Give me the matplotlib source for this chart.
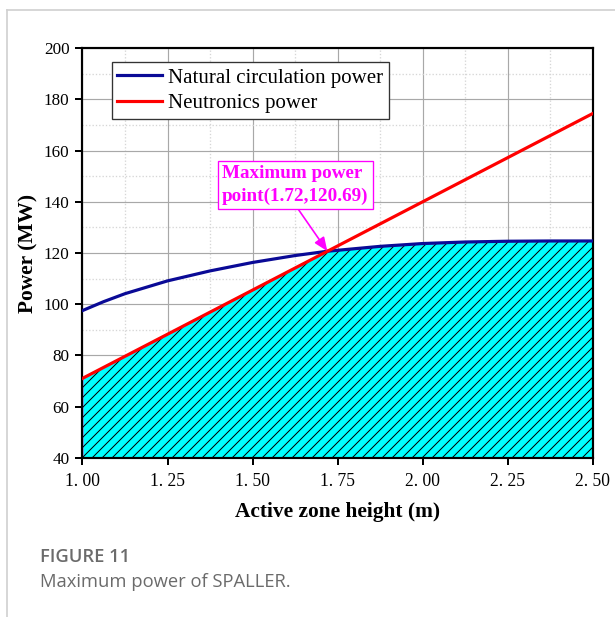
import matplotlib.pyplot as plt
import numpy as np
from matplotlib.lines import Line2D

# Datos
altura = [1.0, 1.0625, 1.125, 1.25, 1.375, 1.5, 1.625, 1.72, 1.875, 2.0, 2.125, 2.25, 2.375, 2.5]
potencia_circ = [97.5, 101.0, 104.1, 109.1, 113.0, 116.3, 119.0, 120.69, 122.6, 123.7, 124.3, 124.6, 124.7, 124.7]
altura_neut = [1.0, 2.5]
potencia_neut = [71.0, 174.5]
punto_max = (1.72, 120.69)

xticks = [1.0, 1.25, 1.5, 1.75, 2.0, 2.25, 2.5]
xtick_labels = ["1. 00", "1. 25", "1. 50", "1. 75", "2. 00", "2. 25", "2. 50"]
yticks = [40, 60, 80, 100, 120, 140, 160, 180, 200]

SERIF = ["Liberation Serif", "DejaVu Serif"]
plt.rcParams["hatch.linewidth"] = 0.6

DPI = 120
fig = plt.figure(figsize=(615 / DPI, 617 / DPI), dpi=DPI)
ax = fig.add_axes([0.1341, 0.2582, 0.8296, 0.6635])

# Zona sombreada bajo la menor de las dos potencias
neut_en_x = np.interp(altura, altura_neut, potencia_neut)
limite = np.minimum(potencia_circ, neut_en_x)
ax.fill_between(altura, 40, limite, facecolor="#00ffff", edgecolor="#b27ae6", lw=0.8, zorder=2)
ax.fill_between(altura, 40, limite, facecolor="none", edgecolor="black", hatch="////", lw=0, zorder=2.1)

ax.plot(altura, potencia_circ, color="#0a0a96", lw=1.9, label="Natural circulation power", zorder=3)
ax.plot(altura_neut, potencia_neut, color="#ff0000", lw=1.9, label="Neutronics power", zorder=4)

ax.annotate("Maximum power\npoint(1.72,120.69)", xy=punto_max, xytext=(1.626, 146.5),
            ha="center", va="center", multialignment="left", color="#ff00ff",
            fontsize=11.5, fontweight="bold", family=SERIF, linespacing=1.42,
            bbox=dict(boxstyle="square,pad=0.22", fc="white", ec="#ff00ff", lw=0.8),
            arrowprops=dict(arrowstyle="-|>,head_length=0.6,head_width=0.25", color="#ff00ff",
                            lw=1.0, relpos=(0.5, 0.0), shrinkA=0, shrinkB=0),
            zorder=5)

ax.set_xlim(1.0, 2.5)
ax.set_ylim(40, 200)
ax.set_xticks(xticks)
ax.set_xticklabels(xtick_labels, family=SERIF, fontsize=10.5)
ax.set_yticks(yticks)
ax.set_yticklabels([str(v) for v in yticks], family=SERIF, fontsize=10.3)
ax.set_xticks(np.arange(1.125, 2.5, 0.25), minor=True)
ax.set_yticks(np.arange(50, 200, 20), minor=True)
ax.tick_params(which="major", direction="out", length=4.3, width=1.2, color="black")
ax.tick_params(axis="x", pad=5)
ax.tick_params(axis="y", pad=3.5)
ax.tick_params(which="minor", length=0)

# Rejilla: mayor continua, menor punteada
ax.grid(which="major", color="#a8a8a8", lw=0.7)
ax.grid(which="minor", color="#d6d6d6", lw=0.8, ls=(0, (1, 1.5)))
ax.set_axisbelow(True)
for lado in ax.spines.values():
    lado.set_linewidth(1.3)

ax.set_xlabel("Active zone height (m)", family=SERIF, fontsize=12.8, fontweight="bold", labelpad=7)
ax.set_ylabel("Power (MW)", family=SERIF, fontsize=12.8, fontweight="bold", labelpad=3)

ax.legend(loc="upper left", bbox_to_anchor=(0.057, 0.966), borderaxespad=0,
          prop={"family": SERIF, "size": 12.5}, fancybox=False, framealpha=1,
          edgecolor="#333333", labelspacing=0.3, borderpad=0.28,
          handlelength=2.15, handletextpad=0.3).get_frame().set_linewidth(0.8)

# Marco y pie de figura
fig.add_artist(Line2D([7 / 615, 1], [1 - 10 / 617, 1 - 10 / 617], color="#d0d0d0", lw=1))
fig.add_artist(Line2D([7 / 615, 7 / 615], [0, 1 - 10 / 617], color="#d0d0d0", lw=1))
fig.text(40 / 615, 1 - 557 / 617, "FIGURE 11", family=["Open Sans", "DejaVu Sans"],
         fontsize=11, fontweight="semibold", color="#6b6b6b", va="center")
fig.text(40 / 615, 1 - 582 / 617, "Maximum power of SPALLER.", family=["Open Sans", "DejaVu Sans"],
         fontsize=11, color="#6b6b6b", va="center")

fig.savefig("out.png", dpi=DPI)
